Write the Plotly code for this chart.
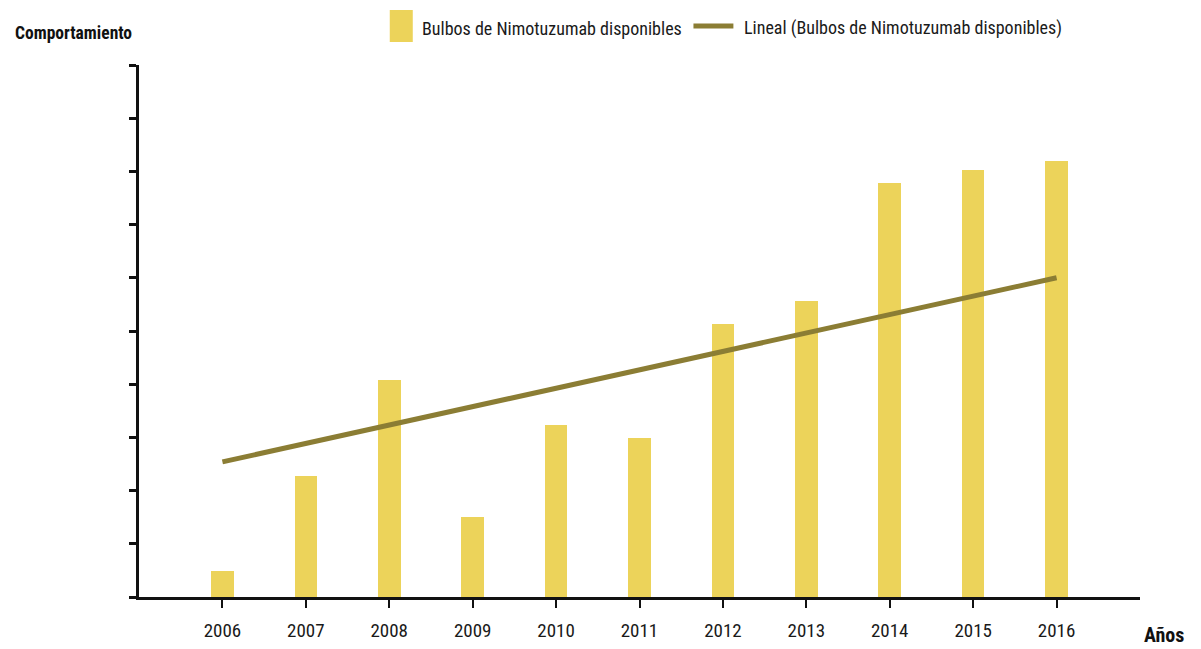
import plotly.graph_objects as go

# Años y bulbos disponibles (unidades relativas del eje)
years = [2006, 2007, 2008, 2009, 2010, 2011, 2012, 2013, 2014, 2015, 2016]
bulbos = [0.49, 2.28, 4.08, 1.51, 3.23, 2.99, 5.14, 5.57, 7.78, 8.03, 8.20]

# Extremos de la línea de tendencia lineal
trend_years = [2006, 2016]
trend_values = [2.54, 6.00]

y_ticks = [0, 1, 2, 3, 4, 5, 6, 7, 8, 9, 10]

BAR_NAME = "Bulbos de Nimotuzumab disponibles"
TREND_NAME = "Lineal (Bulbos de Nimotuzumab disponibles)"

FONT = "Roboto Condensed, DejaVu Sans Condensed, sans-serif"
BAR_COLOR = "#ECD35A"
TREND_COLOR = "#8B7D34"
TEXT_COLOR = "#1a1a1a"

fig = go.Figure()

fig.add_trace(go.Bar(
    x=years,
    y=bulbos,
    width=0.27,
    marker=dict(color=BAR_COLOR, line=dict(width=0)),
    name=BAR_NAME,
))

fig.add_trace(go.Scatter(
    x=trend_years,
    y=trend_values,
    mode="lines",
    line=dict(color=TREND_COLOR, width=5),
    name=TREND_NAME,
))

fig.update_layout(
    width=1201,
    height=649,
    margin=dict(l=139, r=61, t=65, b=52, autoexpand=False),
    paper_bgcolor="white",
    plot_bgcolor="white",
    font=dict(family=FONT, color=TEXT_COLOR),
    showlegend=False,
    bargap=0,
)

fig.update_xaxes(
    range=[2005, 2017],
    tickmode="array",
    tickvals=years,
    ticktext=[str(y) for y in years],
    showline=True,
    linecolor="#111111",
    linewidth=3,
    ticks="outside",
    ticklen=8,
    tickwidth=2,
    tickcolor="#111111",
    ticklabelstandoff=6,
    showgrid=False,
    zeroline=False,
    tickfont=dict(family=FONT, size=19, color=TEXT_COLOR),
)

fig.update_yaxes(
    range=[0, 10],
    tickmode="array",
    tickvals=y_ticks,
    showticklabels=False,
    showline=True,
    linecolor="#111111",
    linewidth=2.5,
    ticks="outside",
    ticklen=7,
    tickwidth=2.5,
    tickcolor="#111111",
    showgrid=False,
    zeroline=False,
)

# Leyenda dibujada encima del área de trazado
fig.add_shape(
    type="rect", xref="paper", yref="paper",
    x0=0.2505, x1=0.2735, y0=1.0432, y1=1.1034,
    fillcolor=BAR_COLOR, line=dict(width=0),
)
fig.add_annotation(
    text=BAR_NAME, xref="paper", yref="paper",
    x=0.2804, y=1.0695, xanchor="left", yanchor="middle",
    showarrow=False, font=dict(family=FONT, size=18, color=TEXT_COLOR),
)
fig.add_shape(
    type="line", xref="paper", yref="paper",
    x0=0.5539, x1=0.5938, y0=1.0733, y1=1.0733,
    line=dict(color=TREND_COLOR, width=5),
)
fig.add_annotation(
    text=TREND_NAME, xref="paper", yref="paper",
    x=0.6028, y=1.0695, xanchor="left", yanchor="middle",
    showarrow=False, font=dict(family=FONT, size=18, color=TEXT_COLOR),
)

fig.add_annotation(
    text="<b>Comportamiento</b>",
    xref="paper", yref="paper",
    x=-0.1258, y=1.060,
    xanchor="left", yanchor="middle",
    showarrow=False,
    font=dict(family=FONT, size=17.5, color="#111111"),
)

fig.add_annotation(
    text="<b>Años</b>",
    xref="paper", yref="paper",
    x=1.002, y=-0.072,
    xanchor="left", yanchor="middle",
    showarrow=False,
    font=dict(family=FONT, size=20, color="#111111"),
)

fig.write_html("out.html")
